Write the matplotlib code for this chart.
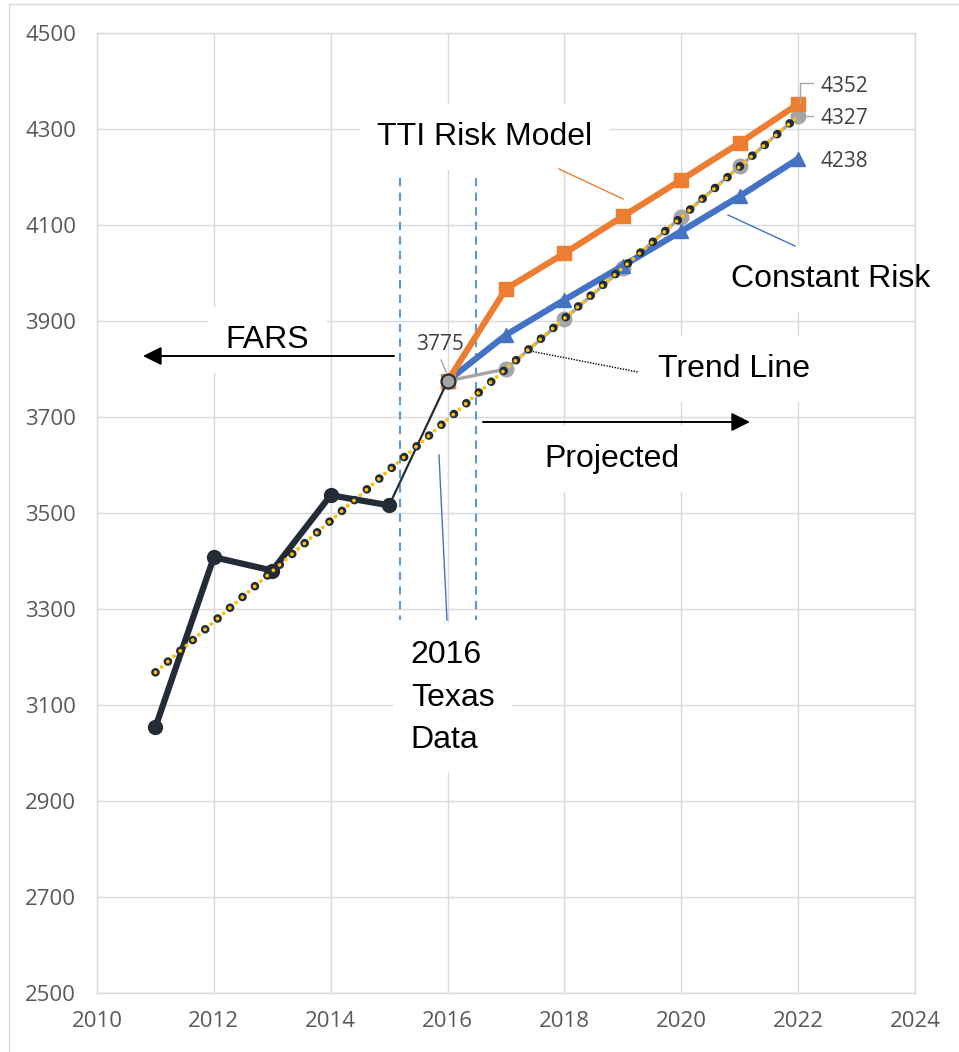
import matplotlib
matplotlib.use('Agg')
import matplotlib.pyplot as plt
from matplotlib.patches import Rectangle

# ---- data ----
fars_years = [2011, 2012, 2013, 2014, 2015, 2016]
fars_values = [3054, 3408, 3380, 3537, 3516, 3775]
proj_years = [2016, 2017, 2018, 2019, 2020, 2021, 2022]
tti_values = [3775, 3967, 4041, 4118, 4194, 4271, 4352]
const_values = [3775, 3871, 3944, 4015, 4087, 4160, 4238]
trendproj_values = [3775, 3800, 3904, 4010, 4117, 4222, 4327]
trend_years = [2011, 2022]
trend_values = [3168, 4327]
x_ticks = list(range(2010, 2025, 2))
y_ticks = list(range(2500, 4501, 200))

ORANGE = '#ED7D31'
BLUE = '#4472C4'
GRAY = '#A5A5A5'
DARK = '#232B36'
YELLOW = '#FFC000'
DASHBLUE = '#5B9BD5'
GRID = '#D9D9D9'
TICKC = '#595959'
LABC = '#404040'

TICKFONT = ['Open Sans', 'DejaVu Sans']
TXTFONT = ['Liberation Sans', 'DejaVu Sans']

fig = plt.figure(figsize=(9.59, 10.52), dpi=100)
ax = fig.add_axes([97 / 959, 59 / 1052, 818 / 959, 960 / 1052])

# outer chart frame
fig.add_artist(Rectangle((9 / 959, -0.01), 1.0, 1 - 4 / 1052 + 0.01,
                         transform=fig.transFigure, fill=False,
                         edgecolor=GRID, lw=1.0))

ax.set_xlim(2010, 2024)
ax.set_ylim(2500, 4500)
ax.set_xticks(x_ticks)
ax.set_yticks(y_ticks)
ax.set_axisbelow(True)
ax.grid(True, color=GRID, lw=1.0, zorder=0)
for s in ax.spines.values():
    s.set_color(GRID)
    s.set_linewidth(1.0)
ax.tick_params(length=0, labelcolor=TICKC, labelsize=16)
ax.tick_params(axis='y', pad=15)
ax.tick_params(axis='x', pad=13)
for lab in ax.get_xticklabels() + ax.get_yticklabels():
    lab.set_family(TICKFONT)

# ---- series ----
# trend projection (gray)
ax.plot(proj_years, trendproj_values, color=GRAY, lw=2.4, marker='o',
        ms=10.5, mfc=GRAY, mec=GRAY, zorder=3)
# constant risk (blue)
ax.plot(proj_years, const_values, color=BLUE, lw=4.5, marker='^',
        ms=10.5, mfc=BLUE, mec=BLUE, zorder=4)
# TTI risk model (orange)
ax.plot(proj_years, tti_values, color=ORANGE, lw=4.5, marker='s',
        ms=9.5, mfc=ORANGE, mec=ORANGE, zorder=4)
# FARS (dark) - thick through 2015, thin 2015-2016
ax.plot(fars_years[:-1], fars_values[:-1], color=DARK, lw=4.5, marker='o',
        ms=10, mfc=DARK, mec=DARK, zorder=5, solid_joinstyle='round')
ax.plot(fars_years[-2:], fars_values[-2:], color=DARK, lw=1.6, zorder=5)
ax.plot(fars_years[-1:], fars_values[-1:], ls='none', marker='o', ms=10,
        mfc=GRAY, mec=DARK, mew=1.5, zorder=7)
# linear trend line (dotted, black dots with yellow centres)
ax.plot(trend_years, trend_values, color=DARK, lw=6.2,
        ls=(0, (0.01, 1.9)), dash_capstyle='round', zorder=6)
ax.plot(trend_years, trend_values, color=YELLOW, lw=2.8,
        ls=(0, (0.01, 2.1)), dash_capstyle='round', zorder=6.5)

# ---- vertical dashed blue lines ----
for xv in (2015.186, 2016.487):
    ax.plot([xv, xv], [4197.9, 3277.1], color=DASHBLUE, lw=1.5,
            ls=(0, (4, 3)), zorder=2)

# ---- thin pointer lines ----
ax.plot([2017.907, 2019.002], [4216.7, 4154.2], color=ORANGE, lw=1.0, zorder=2)
ax.plot([2020.80, 2021.946], [4120.8, 4056.25], color=BLUE, lw=1.0, zorder=2)
ax.plot([2017.411, 2019.259], [3837.5, 3793.75], color='black', lw=1.0,
        ls=(0, (1, 1)), zorder=2)
ax.plot([2015.853, 2015.990], [3620.8, 3277.1], color=BLUE, lw=1.0, zorder=2)

# ---- arrows ----
ax.annotate('', xy=(2010.787, 3827.1), xytext=(2015.083, 3827.1),
            arrowprops=dict(arrowstyle='-|>', color='black', lw=1.4,
                            mutation_scale=28, shrinkA=0, shrinkB=0),
            zorder=3)
ax.annotate('', xy=(2021.176, 3689.6), xytext=(2016.606, 3689.6),
            arrowprops=dict(arrowstyle='-|>', color='black', lw=1.4,
                            mutation_scale=28, shrinkA=0, shrinkB=0),
            zorder=3)

# ---- text labels with white boxes ----
box = dict(facecolor='white', edgecolor='none', boxstyle='square,pad=0.55')
FS = 23
ax.text(2016.64, 4266.7, 'TTI Risk Model', fontsize=FS, family=TXTFONT,
        ha='center', va='baseline', bbox=box, zorder=1.5)
ax.text(2022.55, 3970.8, 'Constant Risk', fontsize=FS, family=TXTFONT,
        ha='center', va='baseline', bbox=box, zorder=1.5)
ax.text(2012.92, 3843.75, 'FARS', fontsize=FS, family=TXTFONT,
        ha='center', va='baseline', bbox=box, zorder=1.5)
ax.text(2020.90, 3783.3, 'Trend Line', fontsize=FS, family=TXTFONT,
        ha='center', va='baseline', bbox=box, zorder=1.5)
ax.text(2018.81, 3595.8, 'Projected', fontsize=FS, family=TXTFONT,
        ha='center', va='baseline', bbox=box, zorder=1.5)
ax.text(2015.37, 3115.5, '2016\nTexas\nData', fontsize=FS, family=TXTFONT,
        ha='left', va='center', linespacing=1.53,
        bbox=dict(facecolor='white', edgecolor='none',
                  boxstyle='square,pad=0.55'), zorder=1.5)

# ---- data labels ----
DL = 15
ax.text(2015.87, 3839.6, str(fars_values[-1]), fontsize=DL, family=TICKFONT,
        color=LABC, ha='center', va='baseline', zorder=8)
ax.text(2022.39, 4377.0, str(tti_values[-1]), fontsize=DL, family=TICKFONT,
        color=LABC, ha='left', va='baseline', zorder=8)
ax.text(2022.39, 4310.4, str(trendproj_values[-1]), fontsize=DL,
        family=TICKFONT, color=LABC, ha='left', va='baseline', zorder=8)
ax.text(2022.39, 4220.8, str(const_values[-1]), fontsize=DL, family=TICKFONT,
        color=LABC, ha='left', va='baseline', zorder=8)
# leader lines
ax.plot([2022.032, 2022.032, 2022.255], [4354.2, 4395.8, 4395.8],
        color='#A6A6A6', lw=1.0, zorder=8)
ax.plot([2022.152, 2022.255], [4327.1, 4327.1], color='#A6A6A6', lw=1.0,
        zorder=8)
ax.plot([2015.888, 2015.973], [3818.75, 3793.75], color='#A6A6A6', lw=1.0,
        zorder=8)

fig.savefig('out.png', dpi=100)
